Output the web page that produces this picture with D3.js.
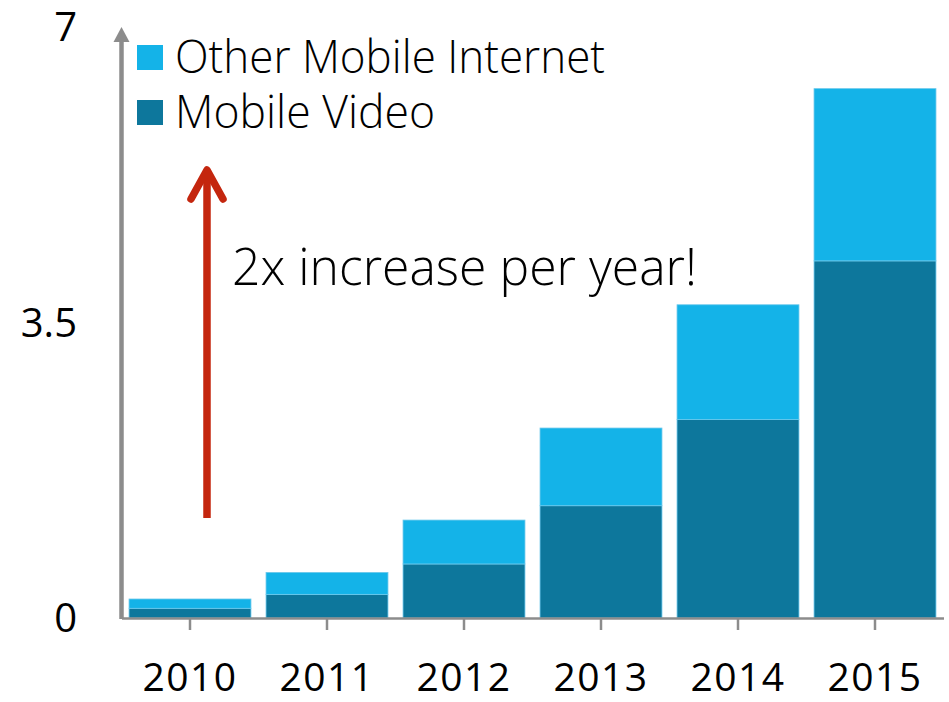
<!DOCTYPE html>
<html>
<head>
<meta charset="utf-8">
<script src="https://cdn.jsdelivr.net/npm/d3@7"></script>
<style>
  body { margin: 0; background: #fff; }
  svg text { font-family: "Open Sans", sans-serif; }
</style>
</head>
<body>
<svg id="chart" width="949" height="702"></svg>
<script>
// data
const years = ['2010', '2011', '2012', '2013', '2014', '2015'];
const mobileVideo = [0.115, 0.28, 0.64, 1.33, 2.35, 4.23];
const otherMobile = [0.11, 0.26, 0.52, 0.92, 1.36, 2.04];
const yTicks = [0, 3.5, 7];
const seriesNames = ['Other Mobile Internet', 'Mobile Video'];
const legendWidths = [430, 260];
const colors = { 'Mobile Video': '#0d779c', 'Other Mobile Internet': '#14b3e8' };

const svg = d3.select('#chart');

const x = d3.scaleBand()
  .domain(years)
  .range([121.5, 943.5])
  .paddingInner(0.11)
  .paddingOuter(0.055);

const y = d3.scaleLinear().domain([0, 7]).range([618, 27]);

const rows = years.map((yr, i) => ({
  year: yr,
  'Mobile Video': mobileVideo[i],
  'Other Mobile Internet': otherMobile[i]
}));
const stacked = d3.stack().keys(['Mobile Video', 'Other Mobile Internet'])(rows);

// bars
svg.append('g')
  .selectAll('g')
  .data(stacked)
  .join('g')
  .attr('fill', d => colors[d.key])
  .selectAll('rect')
  .data(d => d)
  .join('rect')
  .attr('x', d => x(d.data.year))
  .attr('y', d => y(d[1]))
  .attr('width', x.bandwidth())
  .attr('height', d => y(d[0]) - y(d[1]))
  .attr('stroke', '#6cc9ec')
  .attr('stroke-width', 0.8);

// x axis
const xAxis = svg.append('g')
  .attr('transform', `translate(0,${y(0)})`)
  .call(d3.axisBottom(x).tickSize(12).tickPadding(33).tickSizeOuter(0));
xAxis.select('.domain').attr('stroke', '#8c8c8c').attr('stroke-width', 2.5);
xAxis.selectAll('.tick line').attr('stroke', '#8c8c8c').attr('stroke-width', 2.5);
xAxis.selectAll('.tick text')
  .attr('fill', '#000')
  .style('font-size', '39px')
  .style('font-weight', 500)
  .style('letter-spacing', '1.5px');

// y axis line with arrow head
const axisX = 121.5;
svg.append('line')
  .attr('x1', axisX).attr('x2', axisX)
  .attr('y1', y(0) + 1).attr('y2', y(7) + 12)
  .attr('stroke', '#8c8c8c')
  .attr('stroke-width', 4.5);
svg.append('path')
  .attr('d', `M${axisX},${y(7)} L${axisX - 8},${y(7) + 15} L${axisX + 8},${y(7) + 15} Z`)
  .attr('fill', '#8c8c8c');

// y tick labels
svg.append('g')
  .selectAll('text')
  .data(yTicks)
  .join('text')
  .attr('x', 77)
  .attr('y', d => y(d) + 14)
  .attr('text-anchor', 'end')
  .style('font-size', '40px')
  .style('font-weight', 500)
  .attr('fill', '#000')
  .text(d => d);

// legend
const legend = svg.append('g')
  .selectAll('g')
  .data(seriesNames)
  .join('g')
  .attr('transform', (d, i) => `translate(137,${45 + i * 55})`);
legend.append('rect')
  .attr('width', 26).attr('height', 25)
  .attr('fill', d => colors[d]);
legend.append('text')
  .attr('x', 38)
  .attr('y', 28)
  .style('font-size', '46px')
  .style('font-weight', 300)
  .attr('fill', '#000')
  .attr('textLength', (d, i) => legendWidths[i])
  .attr('lengthAdjust', 'spacingAndGlyphs')
  .text(d => d);

// red arrow annotation
const arrowX = 207;
svg.append('line')
  .attr('x1', arrowX).attr('x2', arrowX)
  .attr('y1', 518).attr('y2', 170)
  .attr('stroke', '#c4260e')
  .attr('stroke-width', 7.5);
svg.append('path')
  .attr('d', `M${arrowX - 16},${199} L${arrowX},${170} L${arrowX + 16},${199}`)
  .attr('fill', 'none')
  .attr('stroke', '#c4260e')
  .attr('stroke-width', 7.5)
  .attr('stroke-linecap', 'round')
  .attr('stroke-linejoin', 'round');

svg.append('text')
  .attr('x', 232)
  .attr('y', 285)
  .style('font-size', '51px')
  .style('font-weight', 300)
  .attr('fill', '#000')
  .attr('textLength', 465)
  .attr('lengthAdjust', 'spacingAndGlyphs')
  .text('2x increase per year!');
</script>
</body>
</html>
